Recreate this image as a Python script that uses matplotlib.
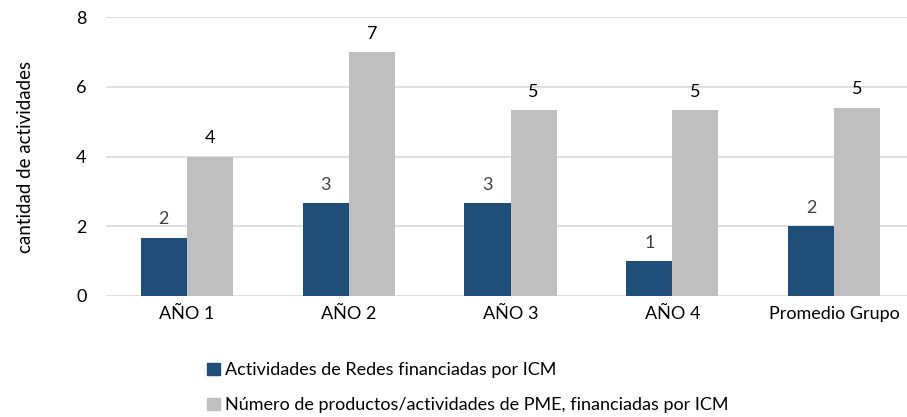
import matplotlib
matplotlib.use("Agg")
import matplotlib.pyplot as plt
import numpy as np
from matplotlib.patches import Patch

plt.rcParams['font.family'] = ['Lato', 'DejaVu Sans']

categories = ["AÑO 1", "AÑO 2", "AÑO 3", "AÑO 4", "Promedio Grupo"]
redes = [1.67, 2.67, 2.67, 1.0, 2.0]
pme = [4.0, 7.0, 5.33, 5.33, 5.41]
redes_labels = ["2", "3", "3", "1", "2"]
pme_labels = ["4", "7", "5", "5", "5"]
series_names = ["Actividades de Redes financiadas por ICM",
                "Número de productos/actividades de PME, financiadas por ICM"]

c_dark = "#1f4e79"
c_gray = "#bfbfbf"

fig = plt.figure(figsize=(9.07, 4.17), dpi=100)
ax = fig.add_axes([106/907, 1-296/417, 1-106/907, (296-17.3)/417])

x = np.arange(len(categories))
w = 0.285
ax.bar(x - w/2, redes, w, color=c_dark, zorder=3)
ax.bar(x + w/2, pme, w, color=c_gray, zorder=3)

for xi, v, t in zip(x, redes, redes_labels):
    ax.text(xi - w/2, v + 0.3, t, ha='center', va='bottom', fontsize=13, color='#404040')
for xi, v, t in zip(x, pme, pme_labels):
    ax.text(xi + w/2, v + 0.3, t, ha='center', va='bottom', fontsize=13, color='#000000')

ax.set_ylim(0, 8)
ax.set_yticks([0, 2, 4, 6, 8])
ax.set_xlim(-0.5, 4.45)
ax.set_xticks(x)
ax.set_xticklabels(categories)
ax.yaxis.grid(True, color='#d9d9d9', linewidth=1.2, zorder=0)
ax.set_axisbelow(True)
for s in ['top', 'right', 'left', 'bottom']:
    ax.spines[s].set_visible(False)
ax.tick_params(axis='both', length=0, labelsize=13, colors='#000000')
ax.tick_params(axis='x', pad=7)
ax.tick_params(axis='y', pad=14)
ax.set_ylabel("cantidad de actividades", fontsize=13.5, labelpad=30)

handles = [Patch(color=c_dark), Patch(color=c_gray)]
fig.legend(handles, series_names, loc='upper left', bbox_to_anchor=(200/907, 1-355/417),
           frameon=False, fontsize=13, handlelength=0.7, handleheight=0.7,
           handletextpad=0.3, labelspacing=1.05, borderaxespad=0)

fig.savefig("out.png", dpi=100)
